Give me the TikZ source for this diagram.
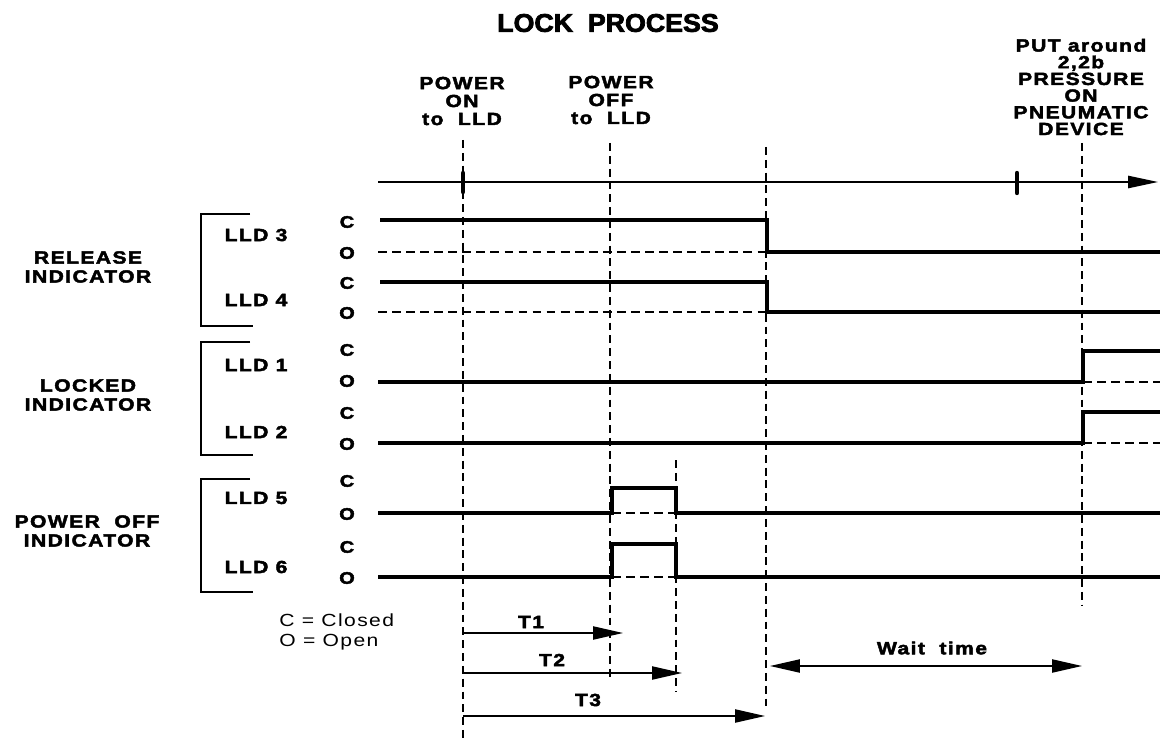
\documentclass[tikz,border=0pt]{standalone}
\usepackage{fontspec}
\newfontfamily\lblfont[FakeStretch=1.2,LetterSpace=8,BoldFeatures={FakeBold=2.5}]{Liberation Sans}
\newfontfamily\ttlfont[FakeStretch=1.05,BoldFeatures={FakeBold=3}]{Liberation Sans}
\usetikzlibrary{arrows.meta,positioning}

\begin{document}
\begin{tikzpicture}[x=0.02cm,y=-0.02cm,font=\lblfont\bfseries\fontsize{10}{10.2}\selectfont,
  sig/.style={line width=2.1pt},
  lowdash/.style={line width=0.8pt,dash pattern=on 5pt off 3pt},
  marker/.style={line width=1.3pt,dash pattern=on 4.5pt off 2.8pt},
  tick/.style={line width=2.5pt,line cap=round},
  bracket/.style={line width=0.9pt},
  tarrow/.style={line width=0.8pt,-{Triangle[length=17pt,width=7.5pt]}},
  co/.style={font=\lblfont\bfseries\fontsize{9.5}{9.5}\selectfont},
  grp/.style={align=center,font=\lblfont\bfseries\fontsize{10}{10.8}\selectfont}]
\useasboundingbox (0,0) rectangle (1160,740);

\node[font=\ttlfont\bfseries\fontsize{14.5}{15}\selectfont] (title) at (608,23) {LOCK\ \ PROCESS};

% event markers
\foreach \nm/\x/\ya/\yb in {on/463/140/740, off/610/143/680, offb/676/460/692, rel/766/147/710, put/1082/143/605}
  \draw[marker] (\x,\ya) coordinate (\nm-t) -- (\x,\yb) coordinate (\nm-b);

\node[align=center] (pon) at (462,101) {POWER\\ON\\to\ \ LLD};
\node[align=center] (poff) at (611,100) {POWER\\OFF\\to\ \ LLD};
\node[align=center,font=\lblfont\bfseries\fontsize{10}{9.5}\selectfont] (put) at (1081,87)
  {PUT\ around\\2,2b\\PRESSURE\\ON\\PNEUMATIC\\DEVICE};

% time axis
\coordinate (ax0) at (378,182);
\coordinate (ax1) at (1158,182);
\draw[line width=0.85pt,-{Triangle[length=17pt,width=7pt]}] (ax0) -- (ax1);
\draw[tick] (463,173) -- (463,192);
\draw[tick] (1017,173) -- (1017,193);

% indicator groups
\foreach \nm/\t/\b in {rel/214/326, lck/342/455, pwr/479/592}
  \draw[bracket] (250,\t) -| (201,\b) -- (253,\b);
\node[grp] (relgrp) at (88,267) {RELEASE\\INDICATOR};
\node[grp] (lckgrp) at (88,395) {LOCKED\\INDICATOR};
\node[grp] (pwrgrp) at (87,531) {POWER\ \ OFF\\INDICATOR};

\foreach \n/\y in {3/235,4/300,1/365,2/432,5/498,6/567}
  \node (lld\n) at (256,\y) {LLD \n};
\foreach \n/\c/\o in {3/222/253,4/283/313,1/350/381,2/413/444,5/481/514,6/547/578} {
  \node[co] (c\n) at (347,\c) {C};
  \node[co] (o\n) at (347,\o) {O};
}

% release: closed -> open
\foreach \c/\o in {220/252, 282/312} {
  \draw[lowdash] (378,\o) -- (767,\o);
  \draw[sig] (380,\c) -- (767,\c) -- (767,\o) -- (1160,\o);
}
% locked: open -> closed
\foreach \c/\o in {351/382, 412/443} {
  \draw[lowdash] (1083,\o) -- (1160,\o);
  \draw[sig] (378,\o) -- (1083,\o) -- (1083,\c) -- (1160,\c);
}
% power off: pulse
\foreach \c/\o in {488/513, 544/577} {
  \draw[lowdash] (612,\o) -- (676,\o);
  \draw[sig] (378,\o) -- (612,\o) -- (612,\c) -- (676,\c) -- (676,\o) -- (1160,\o);
}

\node[anchor=west,align=left,inner sep=0pt,font=\lblfont\fontsize{10}{11.3}\selectfont] (legend) at (279,632)
  {C = Closed\\O = Open};

% durations
\draw[tarrow] (463,633) coordinate (t1s) -- (623,633) coordinate (t1e);
\draw[tarrow] (463,673) coordinate (t2s) -- (682,673) coordinate (t2e);
\draw[tarrow] (463,716) coordinate (t3s) -- (765,716) coordinate (t3e);
\node (T1) at (531,622) {T1};
\node (T2) at (552,660) {T2};
\node (T3) at (588,700) {T3};
\draw[line width=0.8pt,{Triangle[length=17pt,width=7.5pt]}-{Triangle[length=17pt,width=7.5pt]}]
  (770,666) coordinate (w0) -- (1082,666) coordinate (w1);
\node (wait) at (932,648) {Wait\ \ time};
\end{tikzpicture}
\end{document}
